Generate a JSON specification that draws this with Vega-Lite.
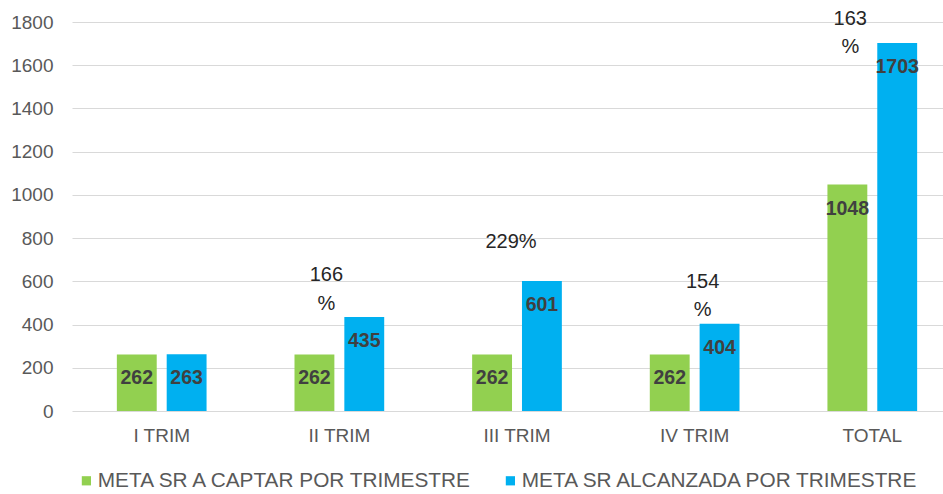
{
  "$schema": "https://vega.github.io/schema/vega-lite/v6.json",
  "autosize": "none",
  "width": 890,
  "height": 389,
  "padding": {"left": 72, "top": 22, "right": 0, "bottom": 83},
  "background": "white",
  "config": {
    "view": {"stroke": null},
    "font": "Liberation Sans",
    "text": {"lineBreak": "\n"}
  },
  "datasets": {
    "barras": [
      {"trim": "I TRIM", "serie": "META SR A CAPTAR POR TRIMESTRE", "valor": 262},
      {"trim": "I TRIM", "serie": "META SR ALCANZADA POR TRIMESTRE", "valor": 263},
      {"trim": "II TRIM", "serie": "META SR A CAPTAR POR TRIMESTRE", "valor": 262},
      {"trim": "II TRIM", "serie": "META SR ALCANZADA POR TRIMESTRE", "valor": 435},
      {"trim": "III TRIM", "serie": "META SR A CAPTAR POR TRIMESTRE", "valor": 262},
      {"trim": "III TRIM", "serie": "META SR ALCANZADA POR TRIMESTRE", "valor": 601},
      {"trim": "IV TRIM", "serie": "META SR A CAPTAR POR TRIMESTRE", "valor": 262},
      {"trim": "IV TRIM", "serie": "META SR ALCANZADA POR TRIMESTRE", "valor": 404},
      {"trim": "TOTAL", "serie": "META SR A CAPTAR POR TRIMESTRE", "valor": 1048},
      {"trim": "TOTAL", "serie": "META SR ALCANZADA POR TRIMESTRE", "valor": 1703}
    ],
    "porcentajes": [
      {"trim": "II TRIM", "valor": 435, "pct": "166\n%"},
      {"trim": "III TRIM", "valor": 601, "pct": "229%"},
      {"trim": "IV TRIM", "valor": 404, "pct": "154\n%"},
      {"trim": "TOTAL", "valor": 1703, "pct": "163\n%"}
    ]
  },
  "layer": [
    {
      "data": {"name": "barras"},
      "mark": {"type": "bar"},
      "encoding": {
        "x": {
          "field": "trim", "type": "nominal", "sort": null,
          "scale": {"paddingInner": 0.495, "paddingOuter": 0.2525},
          "axis": {"title": null, "labelAngle": 0, "labelFontSize": 19, "labelColor": "#595959", "labelPadding": 15, "ticks": false, "domain": false}
        },
        "xOffset": {"field": "serie", "type": "nominal", "scale": {"paddingInner": 0.2, "paddingOuter": 0}},
        "y": {
          "field": "valor", "type": "quantitative",
          "scale": {"domain": [0, 1800], "nice": false},
          "axis": {"title": null, "format": "d", "values": [0,200,400,600,800,1000,1200,1400,1600,1800], "labelFontSize": 19, "labelColor": "#595959", "labelPadding": 19, "ticks": false, "domain": false, "gridColor": "#D9D9D9", "gridWidth": 1.2}
        },
        "color": {
          "field": "serie", "type": "nominal",
          "scale": {"range": ["#92D050", "#00B0F0"]},
          "legend": {"title": null, "orient": "none", "direction": "horizontal", "legendX": 4, "legendY": 448, "symbolType": "square", "symbolSize": 85, "symbolOpacity": 1, "symbolStrokeWidth": 0, "labelFontSize": 20.8, "labelColor": "#595959", "labelOffset": 1, "labelLimit": 0, "columnPadding": 26}
        }
      }
    },
    {
      "data": {"name": "barras"},
      "mark": {"type": "text", "baseline": "middle", "dy": 24, "fontSize": 19.5, "fontWeight": "bold", "color": "#404040"},
      "encoding": {
        "x": {"field": "trim", "type": "nominal", "sort": null},
        "xOffset": {"field": "serie", "type": "nominal"},
        "y": {"field": "valor", "type": "quantitative"},
        "text": {"field": "valor", "type": "quantitative"}
      }
    },
    {
      "data": {"name": "porcentajes"},
      "transform": [{"filter": "datum.trim === 'II TRIM'"}],
      "mark": {"type": "text", "baseline": "middle", "dx": -13, "dy": -42, "fontSize": 20, "lineHeight": 29, "color": "#262626"},
      "encoding": {
        "x": {"field": "trim", "type": "nominal", "sort": null},
        "y": {"field": "valor", "type": "quantitative"},
        "text": {"field": "pct"}
      }
    },
    {
      "data": {"name": "porcentajes"},
      "transform": [{"filter": "datum.trim === 'III TRIM'"}],
      "mark": {"type": "text", "baseline": "middle", "dx": -6, "dy": -39, "fontSize": 20, "lineHeight": 29, "color": "#262626"},
      "encoding": {
        "x": {"field": "trim", "type": "nominal", "sort": null},
        "y": {"field": "valor", "type": "quantitative"},
        "text": {"field": "pct"}
      }
    },
    {
      "data": {"name": "porcentajes"},
      "transform": [{"filter": "datum.trim === 'IV TRIM'"}],
      "mark": {"type": "text", "baseline": "middle", "dx": 8, "dy": -42, "fontSize": 20, "lineHeight": 28, "color": "#262626"},
      "encoding": {
        "x": {"field": "trim", "type": "nominal", "sort": null},
        "y": {"field": "valor", "type": "quantitative"},
        "text": {"field": "pct"}
      }
    },
    {
      "data": {"name": "porcentajes"},
      "transform": [{"filter": "datum.trim === 'TOTAL'"}],
      "mark": {"type": "text", "baseline": "middle", "dx": -22, "dy": -24, "fontSize": 20, "lineHeight": 28, "color": "#262626"},
      "encoding": {
        "x": {"field": "trim", "type": "nominal", "sort": null},
        "y": {"field": "valor", "type": "quantitative"},
        "text": {"field": "pct"}
      }
    }
  ]
}
